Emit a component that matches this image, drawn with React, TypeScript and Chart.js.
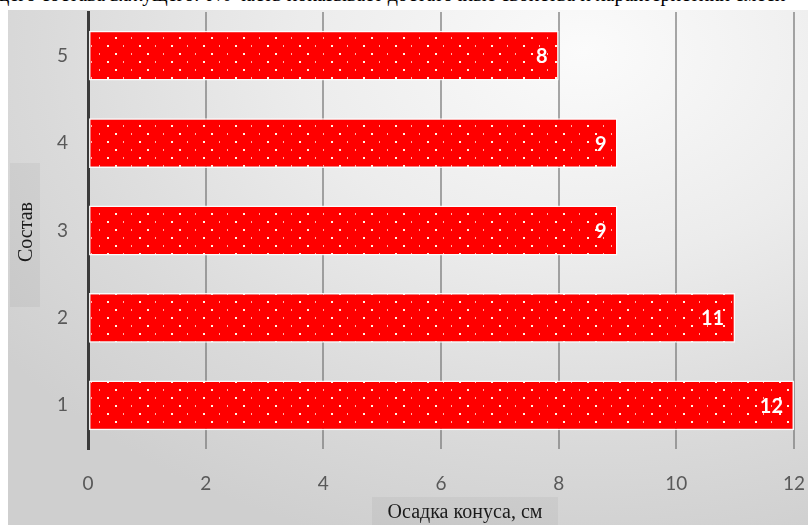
import React, { useEffect, useRef } from "react";
import { Chart, registerables } from "chart.js";

Chart.register(...registerables);

const categories: string[] = ["1", "2", "3", "4", "5"];
const values: number[] = [12, 11, 9, 9, 8];
const xTicks: number[] = [0, 2, 4, 6, 8, 10, 12];
const yTitle = "Состав";
const xTitle = "Осадка конуса, см";
const topText =
  "щего состава вяжущего. 0% часть показывает достаточные свойства и характеристики смеси";

function makePattern(ctx: CanvasRenderingContext2D): CanvasPattern | string {
  const c = document.createElement("canvas");
  c.width = 32;
  c.height = 16;
  const p = c.getContext("2d");
  if (!p) return "#ff0000";
  p.fillStyle = "#ff0000";
  p.fillRect(0, 0, 32, 16);
  p.fillStyle = "#fff4e6";
  p.fillRect(3, 3, 2, 2);
  p.fillRect(11, 11, 2, 2);
  p.fillStyle = "rgba(255,225,215,0.8)";
  p.fillRect(19, 3, 1, 2);
  p.fillRect(27, 11, 1, 2);
  return ctx.createPattern(c, "repeat") || "#ff0000";
}

const labelPlugin = {
  id: "barLabels",
  afterDatasetsDraw(chart: any) {
    const ctx = chart.ctx;
    const meta = chart.getDatasetMeta(0);
    ctx.save();
    ctx.font = "bold 20px Lato, 'Open Sans', sans-serif";
    ctx.fillStyle = "#ffffff";
    ctx.textAlign = "right";
    ctx.textBaseline = "middle";
    meta.data.forEach((bar: any, i: number) => {
      ctx.fillText(String(values[i]), bar.x - 11, bar.y + 1);
    });
    ctx.restore();
  },
};

const titlePlugin = {
  id: "axisTitles",
  beforeDraw(chart: any) {
    const ctx = chart.ctx;
    ctx.save();
    ctx.fillStyle = "rgba(0,0,0,0.04)";
    ctx.fillRect(2, 153, 30, 144);
    ctx.fillRect(364, 487, 186, 28);
    ctx.restore();
  },
  afterDraw(chart: any) {
    const ctx = chart.ctx;
    ctx.save();
    ctx.fillStyle = "#1a1a1a";
    ctx.font = "20px 'Liberation Serif', 'DejaVu Serif', serif";
    ctx.textAlign = "center";
    ctx.textBaseline = "middle";
    ctx.fillText(xTitle, 457, 503);
    ctx.translate(19, 222);
    ctx.rotate(-Math.PI / 2);
    ctx.fillText(yTitle, 0, 0);
    ctx.restore();
  },
};

export default function App() {
  const ref = useRef<HTMLCanvasElement | null>(null);

  useEffect(() => {
    const canvas = ref.current;
    if (!canvas) return;
    const ctx = canvas.getContext("2d");
    if (!ctx) return;
    const pattern = makePattern(ctx);
    const chart = new Chart(ctx, {
      type: "bar",
      data: {
        labels: categories,
        datasets: [
          {
            data: values,
            backgroundColor: pattern as any,
            borderColor: "rgba(255,255,255,0.9)",
            borderWidth: 1.5,
            borderSkipped: false,
            categoryPercentage: 1,
            barPercentage: 0.57,
          },
        ],
      },
      options: {
        indexAxis: "y",
        animation: false,
        responsive: false,
        maintainAspectRatio: false,
        layout: { padding: { top: 2, right: 14, left: 0, bottom: 0 } },
        plugins: {
          legend: { display: false },
          tooltip: { enabled: false },
          title: { display: false },
        },
        scales: {
          x: {
            type: "linear",
            min: 0,
            max: 12,
            afterBuildTicks: (scale: any) => {
              scale.ticks = xTicks.map((v) => ({ value: v }));
            },
            afterFit: (scale: any) => {
              scale.height = 76;
              scale.paddingLeft = 0;
              scale.paddingRight = 0;
              scale.paddingTop = 0;
              scale.paddingBottom = 0;
            },
            border: { display: false },
            grid: {
              color: "rgba(115,115,115,0.62)",
              lineWidth: 2,
              drawTicks: false,
            },
            ticks: {
              padding: 23,
              color: "#595959",
              font: { family: "Lato, 'Open Sans', sans-serif", size: 19 },
            },
          },
          y: {
            type: "category",
            reverse: true,
            afterFit: (scale: any) => {
              scale.width = 80;
              scale.paddingLeft = 0;
              scale.paddingRight = 0;
              scale.paddingTop = 0;
              scale.paddingBottom = 0;
            },
            border: { display: true, color: "#3a3a3a", width: 3 },
            grid: { display: false, drawTicks: false },
            ticks: {
              padding: 20,
              color: "#595959",
              font: { family: "Lato, 'Open Sans', sans-serif", size: 19 },
            },
          },
        },
      },
      plugins: [titlePlugin, labelPlugin],
    } as any);
    return () => chart.destroy();
  }, []);

  return (
    <div>
      <div
        style={{
          position: "fixed",
          left: 0,
          top: 0,
          width: 808,
          height: 10,
          overflow: "hidden",
          background: "#ffffff",
        }}
      >
        <div
          style={{
            position: "absolute",
            left: -6,
            top: -16,
            whiteSpace: "nowrap",
            fontFamily: "'Liberation Serif', serif",
            fontSize: 20,
            lineHeight: "20px",
            color: "#000",
          }}
        >
          {topText}
        </div>
      </div>
      <div
        style={{
          position: "fixed",
          left: 8,
          top: 10,
          width: 800,
          height: 515,
          background:
            "radial-gradient(ellipse 90% 100% at 72% 8%, #fbfbfb 0%, #ececec 40%, #dadada 75%, #cfcfcf 100%)",
        }}
      >
        <canvas ref={ref} width={800} height={515} style={{ display: "block" }} />
      </div>
    </div>
  );
}
